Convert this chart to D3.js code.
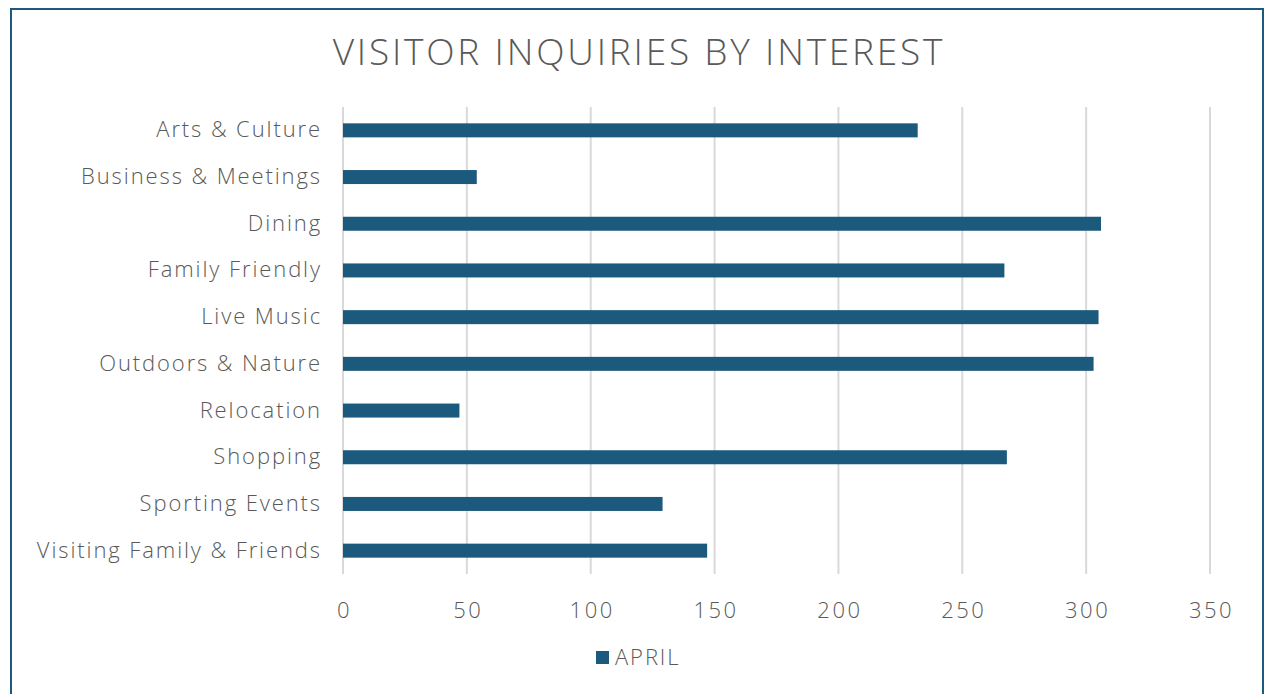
<!DOCTYPE html>
<html>
<head>
<meta charset="utf-8">
<script src="https://cdn.jsdelivr.net/npm/d3@7"></script>
<style>
  body { margin: 0; background: #fff; }
  text { font-family: 'Open Sans', 'Noto Sans', sans-serif; font-weight: 300; fill: #595959; }
</style>
</head>
<body>
<svg id="canvas"></svg>
<script>
let categories = ['Arts & Culture', 'Business & Meetings', 'Dining', 'Family Friendly', 'Live Music',
  'Outdoors & Nature', 'Relocation', 'Shopping', 'Sporting Events', 'Visiting Family & Friends'];
let april = [232, 54, 306, 267, 305, 303, 47, 268, 129, 147];
let xTicks = [0, 50, 100, 150, 200, 250, 300, 350];
let seriesName = 'APRIL';

let width = 1270;
let height = 694;
let barColor = '#1b5a7d';

let svg = d3.select('#canvas')
  .attr('width', width)
  .attr('height', height)

// frame
svg.append('rect')
  .attr('x', 11)
  .attr('y', 9)
  .attr('width', 1252)
  .attr('height', 700)
  .attr('fill', 'none')
  .attr('stroke', '#1b5a7d')
  .attr('stroke-width', 2)

svg.append('text')
  .text('VISITOR INQUIRIES BY INTEREST')
  .attr('x', 639)
  .attr('y', 65)
  .attr('text-anchor', 'middle')
  .style('font-size', '37px')
  .style('letter-spacing', '2.8px')

let xScale = d3.scaleLinear()
  .domain([0, 350])
  .range([343, 1210])

let yScale = d3.scaleBand()
  .domain(categories)
  .range([107, 574])
  .paddingInner(0.7)
  .paddingOuter(0.35)

// gridlines
svg.append('g')
  .selectAll('line')
  .data(xTicks)
  .enter()
  .append('line')
  .attr('x1', (d) => xScale(d))
  .attr('x2', (d) => xScale(d))
  .attr('y1', 107)
  .attr('y2', 574)
  .attr('stroke', '#d9d9d9')
  .attr('stroke-width', 2)

svg.append('g')
  .selectAll('rect')
  .data(april)
  .enter()
  .append('rect')
  .attr('x', xScale(0))
  .attr('y', (d, i) => yScale(categories[i]))
  .attr('width', (d) => xScale(d) - xScale(0))
  .attr('height', yScale.bandwidth())
  .attr('fill', barColor)

// x axis
let xAxis = d3.axisBottom(xScale)
  .tickValues(xTicks)
  .tickSize(0)
  .tickPadding(28)

let gx = svg.append('g')
  .attr('transform', 'translate(0, 574)')
  .call(xAxis)
gx.select('.domain').remove()
gx.selectAll('text').style('font-size', '22px').style('letter-spacing', '2.5px').attr('dx', '1').attr('fill', '#595959')

// y axis
let yAxis = d3.axisLeft(yScale).tickSize(0).tickPadding(21)
let gy = svg.append('g')
  .attr('transform', 'translate(343, 0)')
  .call(yAxis)
gy.select('.domain').remove()
gy.selectAll('text').style('font-size', '22px').style('letter-spacing', '1.9px').attr('fill', '#595959')

// legend
let legend = svg.append('g').attr('transform', 'translate(596, 651)')
legend.append('rect')
  .attr('width', 13)
  .attr('height', 13)
  .attr('fill', barColor)
legend.append('text')
  .text(seriesName)
  .attr('x', 19)
  .attr('y', 14)
  .style('font-size', '22px')
  .style('letter-spacing', '1.9px')
</script>
</body>
</html>
